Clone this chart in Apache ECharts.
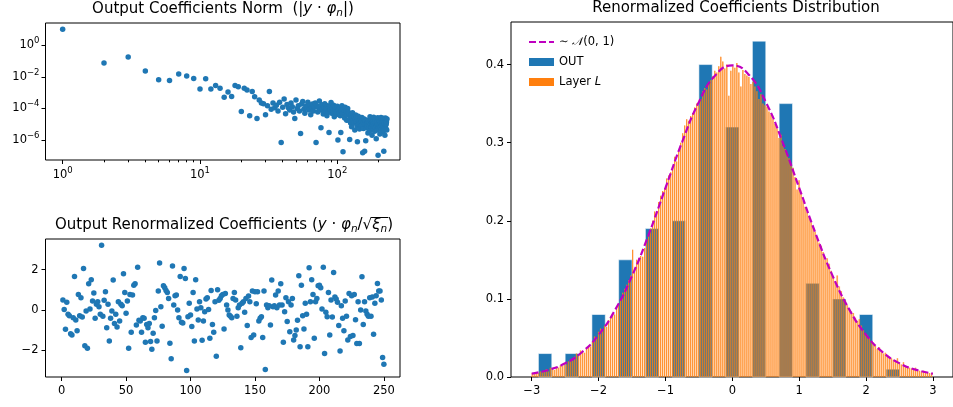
<!DOCTYPE html>
<html>
<head>
<meta charset="utf-8">
<script src="https://cdn.jsdelivr.net/npm/echarts@6.0.0/dist/echarts.min.js"></script>
<style>
  html, body { margin: 0; padding: 0; background: #fff; }
  #chart { width: 953px; height: 407px; }
</style>
</head>
<body>
<div id="chart"></div>
<script>
// |y . phi_n| for n = 1, 2, ...
const coeffNorms = [
  10.2, 0.075, 0.18, 0.024, 0.0067, 0.0058, 0.015, 0.0115, 0.0078, 0.0017,
  0.0075, 0.0017, 0.0029, 0.0019, 0.00052, 0.0011, 0.00057, 0.0029, 0.0024, 6.5e-5,
  0.0019, 0.0015, 3.5e-5, 0.0012, 0.00055, 2.3e-5, 0.00035, 0.00022, 0.0002, 4e-5,
  1.5e-4, 1.2e-3, 9e-5, 2.2e-4, 1.1e-4, 1.6e-4, 7e-5, 2.5e-4, 7e-7, 1.2e-4,
  4e-4, 4.7e-5, 1.8e-4, 1.1e-4, 8e-5, 2.2e-4, 1.3e-4, 6e-5, 2.3e-5, 3.5e-4,
  1e-4, 1.5e-4, 7e-5, 2.6e-6, 1.9e-4, 2.8e-4, 9e-5, 5e-5, 1.4e-4, 1.1e-4,
  2.5e-4, 8e-5, 1.6e-4, 4e-5, 1.2e-4, 1.9e-4, 7e-5, 1.3e-4, 2.2e-4, 7e-7,
  1.5e-4, 6e-5, 1.1e-4, 3e-4, 8e-5, 6e-6, 1.7e-4, 9e-5, 4.5e-5, 1.2e-4,
  2e-4, 7e-5, 1e-4, 3.5e-5, 1.5e-4, 6e-5, 3e-6, 1.3e-4, 8e-5, 2.4e-4,
  5e-5, 1e-4, 7e-5, 1.6e-4, 3e-5, 9e-5, 1.2e-4, 4e-5, 6e-5, 1.4e-4,
  1e-6, 8e-5, 5e-5, 1.1e-4, 3.5e-5, 3e-6, 7e-5, 1.5e-4, 4.5e-5, 1.8e-7,
  9e-5, 6e-5, 2.5e-5, 1.2e-4, 5e-5, 7.5e-5, 1.8e-5, 4e-5, 1e-4, 6e-5,
  1.8e-5, 4.8e-5, 1.1e-6, 3e-5, 1.2e-5, 4.2e-5, 7e-6, 2.7e-5, 5.4e-5, 1.8e-5,
  3.3e-5, 1.2e-5, 2.8e-5, 4.4e-6, 2.2e-5, 3.9e-5, 1.5e-5, 3e-5, 8e-6, 8e-7,
  2e-5, 3.2e-5, 1e-5, 1.8e-5, 5e-6, 2.5e-5, 1.2e-5, 2.2e-5, 8e-6, 1.5e-5,
  2.7e-5, 9e-6, 1.6e-7, 1.8e-5, 5.4e-6, 1.35e-5, 2.2e-5, 2e-7, 1e-5, 1.7e-5,
  9e-7, 1.1e-5, 6e-6, 1.8e-5, 8e-6, 1.3e-5, 2.8e-6, 1e-5, 1.6e-5, 5.2e-6,
  1.2e-5, 8e-6, 3e-5, 4e-6, 1e-5, 1.6e-5, 6.8e-6, 1.2e-5, 2e-6, 9e-6,
  1.4e-5, 5.6e-6, 1e-5, 2.8e-5, 7.2e-6, 1.2e-5, 3.6e-6, 8.8e-6, 1.5e-5, 6e-6,
  1.1e-5, 1.2e-6, 8e-6, 1.3e-5, 4.4e-6, 9.6e-6, 2.6e-5, 1.1e-7, 6.8e-6, 1.1e-5,
  5.2e-6, 1.4e-5, 8e-6, 2.4e-6, 1e-5, 6.4e-6, 1.2e-5, 2.7e-5, 4.8e-6, 8.8e-6,
  1.3e-5, 3.2e-6, 7.6e-6, 1.1e-5, 5.6e-6, 2.4e-5, 8.4e-6, 2e-7, 4e-6, 1e-5,
  1.2e-5, 2e-6, 6.4e-6, 2.5e-5, 8.8e-6, 5.2e-6, 1.1e-5, 1.4e-5, 4.4e-6, 2.2e-5
];

// y . phi_n / sqrt(xi_n) for n = 1 .. 250
const renormCoeffs = [
  0.49, 0.03, -0.95, 0.38, -0.21, -0.28, -1.17, -1.23, -0.38, 1.66,
  -0.49, -1.03, 0.77, -0.28, 0.61, -0.34, 2.05, -1.76, -0.05, -1.89,
  1.30, 0.05, 1.49, 0.44, 0.84, -0.41, 0.28, 0.41, 0.16, -0.21,
  3.20, -0.31, 0.48, 0.90, -0.87, 0.28, -1.53, -0.41, -0.05, 1.48,
  -0.67, -0.21, -0.84, 0.41, -0.54, 0.28, 0.21, 1.79, 0.87, -0.16,
  0.44, -1.89, 0.77, -1.10, 0.74, 1.23, 1.30, -0.74, 2.12, -0.51,
  -0.54, -1.10, -0.38, -0.41, -1.59, -0.71, -0.87, -0.66, -1.56, -1.94,
  -1.15, -0.38, -0.02, -1.53, 0.94, 2.32, 0.16, -0.80, 1.20, 1.10,
  0.97, 0.87, 0.57, -1.64, -2.41, 2.18, 0.25, 0.71, 0.74, 0.0,
  -0.38, 1.66, -0.61, -0.64, 2.05, 1.56, -2.99, -0.33, 0.33, -0.25,
  -0.82, 0.87, -1.53, 1.49, 0.05, -0.49, 0.41, 0.11, -1.49, -0.54,
  -0.08, 0.54, 0.61, 0.02, -1.40, 0.97, -0.71, -1.10, 0.41, -2.28,
  1.00, 0.48, 0.57, 0.71, 0.77, -0.94, 0.82, 0.25, 0.0, -0.25,
  -0.31, -0.38, 0.57, 0.87, 0.49, -0.31, 0.11, 0.25, -1.86, 0.33,
  0.41, -0.11, 0.57, -0.77, 0.69, 0.41, -1.36, 0.94, -1.23, 0.90,
  0.31, 0.90, -0.54, -0.41, -0.33, -1.36, 0.94, -2.94, 0.25, 0.11,
  0.21, -0.74, 1.48, 0.16, 0.21, 0.74, 0.11, 0.94, 0.25, 1.30,
  0.25, -1.59, -0.08, 0.61, -0.57, 0.41, -1.07, 0.25, 0.57, -1.48,
  -1.26, -0.99, -0.51, 1.69, -1.81, 1.23, -0.28, -0.94, 0.34, -0.21,
  -1.82, 2.09, 0.41, 1.49, 0.77, -1.40, 0.41, 0.57, 1.20, 1.23,
  1.10, 0.05, 2.12, -2.15, -0.11, -0.33, 0.87, -1.23, 0.49, -0.34,
  1.86, 0.64, 0.54, 0.38, -0.77, -2.02, 0.21, -0.41, -1.03, 0.44,
  -0.31, -1.48, 0.82, -1.31, 0.71, -1.26, 0.77, -0.48, -1.66, 0.41,
  -1.66, 0.0, 1.64, -0.71, 0.41, -0.05, -0.21, -0.31, 0.61, -0.31,
  0.64, -1.20, 0.33, 0.71, 1.31, 0.94, 0.94, 0.49, -2.35, -2.68
];

// OUT histogram (density), bins of width 0.4
const outBinCenters = [-2.8, -2.4, -2.0, -1.6, -1.2, -0.8, -0.4, 0.0, 0.4, 0.8, 1.2, 1.6, 2.0, 2.4];
const outDensity = [0.03, 0.03, 0.08, 0.15, 0.19, 0.20, 0.40, 0.32, 0.43, 0.35, 0.12, 0.10, 0.08, 0.01];

// Layer L histogram (density), 200 bins from -3 to 3
const layerBinStart = -3;
const layerBinWidth = 0.03;
const layerDensity = [
  0.005, 0.004, 0.006, 0.005, 0.007, 0.006, 0.008, 0.010, 0.007, 0.012,
  0.011, 0.009, 0.013, 0.012, 0.015, 0.014, 0.018, 0.016, 0.020, 0.022,
  0.021, 0.026, 0.030, 0.028, 0.034, 0.032, 0.031, 0.036, 0.040, 0.039,
  0.045, 0.052, 0.050, 0.058, 0.062, 0.060, 0.066, 0.064, 0.073, 0.077,
  0.082, 0.080, 0.088, 0.094, 0.100, 0.108, 0.113, 0.118, 0.124, 0.130,
  0.163, 0.140, 0.150, 0.152, 0.155, 0.154, 0.165, 0.176, 0.182, 0.190,
  0.200, 0.212, 0.210, 0.224, 0.232, 0.238, 0.242, 0.254, 0.258, 0.262,
  0.270, 0.282, 0.276, 0.290, 0.300, 0.312, 0.322, 0.330, 0.328, 0.334,
  0.338, 0.345, 0.350, 0.348, 0.356, 0.366, 0.370, 0.368, 0.375, 0.380,
  0.385, 0.392, 0.390, 0.398, 0.410, 0.404, 0.395, 0.400, 0.360, 0.392,
  0.398, 0.396, 0.402, 0.390, 0.372, 0.393, 0.388, 0.386, 0.384, 0.375,
  0.378, 0.372, 0.366, 0.356, 0.362, 0.350, 0.348, 0.346, 0.340, 0.336,
  0.330, 0.324, 0.318, 0.306, 0.310, 0.296, 0.292, 0.285, 0.280, 0.272,
  0.268, 0.256, 0.240, 0.252, 0.236, 0.226, 0.218, 0.212, 0.205, 0.198,
  0.192, 0.186, 0.180, 0.172, 0.168, 0.160, 0.150, 0.152, 0.145, 0.136,
  0.128, 0.122, 0.130, 0.116, 0.110, 0.102, 0.098, 0.092, 0.088, 0.084,
  0.082, 0.076, 0.072, 0.074, 0.066, 0.060, 0.056, 0.054, 0.050, 0.046,
  0.044, 0.040, 0.036, 0.038, 0.034, 0.030, 0.031, 0.028, 0.026, 0.024,
  0.022, 0.020, 0.024, 0.018, 0.016, 0.019, 0.014, 0.013, 0.012, 0.011,
  0.010, 0.012, 0.009, 0.008, 0.007, 0.008, 0.006, 0.006, 0.005, 0.005
];

// reference N(0,1) curve as drawn
const normalX = [-3, -2.75, -2.5, -2.25, -2, -1.75, -1.5, -1.25, -1, -0.75, -0.5, -0.25, 0,
  0.25, 0.5, 0.75, 1, 1.25, 1.5, 1.75, 2, 2.25, 2.5, 2.75, 3];
const normalY = [0.0044, 0.0091, 0.0175, 0.0317, 0.054, 0.0863, 0.1295, 0.1826, 0.242, 0.3011,
  0.3521, 0.3867, 0.3989, 0.3867, 0.3521, 0.3011, 0.242, 0.1826, 0.1295, 0.0863, 0.054, 0.0317,
  0.0175, 0.0091, 0.0044];

const logXTicks = [1, 10, 100];
const logXMinorTicks = [2, 3, 4, 5, 6, 7, 8, 9, 20, 30, 40, 50, 60, 70, 80, 90, 200];
const logYTicks = [1e-6, 1e-4, 1e-2, 1];
const renormXTicks = [0, 50, 100, 150, 200, 250];
const renormYTicks = [-2, 0, 2];
const distXTicks = [-3, -2, -1, 0, 1, 2, 3];
const distYTicks = [0, 0.1, 0.2, 0.3, 0.4];

const FONT = "DejaVu Sans";
const BLUE = "#1f77b4";
const ORANGE = "#ff7f0e";
const MAGENTA = "#bf00bf";
const NORMAL_NAME = "normal";

const chart = echarts.init(document.getElementById("chart"), null, { renderer: "canvas" });

function powerLabel(v) {
  const e = Math.round(Math.log10(v));
  return "{b|10}{e|" + (e < 0 ? "\u2212" + -e : e) + "}";
}
function minusLabel(v) {
  return String(v).replace("-", "\u2212");
}

// width of a text run, used to put the bar over the square root in the 2nd title
const measureCtx = document.createElement("canvas").getContext("2d");
function textWidth(text, font) {
  measureCtx.font = font;
  return measureCtx.measureText(text).width;
}

const tickLabel = { fontFamily: FONT, fontSize: 11.5, color: "#000" };
const axisTick = { show: true, length: 4, inside: false, lineStyle: { color: "#000", width: 1 } };
const noLine = { show: false, onZero: false };
const noSplit = { show: false };
const powRich = {
  b: { fontFamily: FONT, fontSize: 11.5, color: "#000", verticalAlign: "middle" },
  e: { fontFamily: FONT, fontSize: 8.5, color: "#000", verticalAlign: "middle", padding: [0, 0, 9, 0] },
};
const gridBox = { show: true, borderColor: "#000", borderWidth: 1, backgroundColor: "transparent" };

const titleRich = {
  n: { fontFamily: FONT, fontSize: 15, fontWeight: "normal", color: "#000", verticalAlign: "middle" },
  i: { fontFamily: FONT, fontSize: 15, fontWeight: "normal", fontStyle: "italic", color: "#000", verticalAlign: "middle" },
  s: { fontFamily: FONT, fontSize: 10.5, fontWeight: "normal", fontStyle: "italic", color: "#000", verticalAlign: "middle", padding: [8, 0, 0, 0] },
};

const T2_CENTER = 224;
const T2_TOP = 216;
const fMain = '15px "DejaVu Sans"';
const fItalic = 'italic 15px "DejaVu Sans"';
const fSub = 'italic 10.5px "DejaVu Sans"';
const t2Before = textWidth("Output Renormalized Coefficients (", fMain) + textWidth("y", fItalic)
  + textWidth(" \u00b7 ", fMain) + textWidth("\u03c6", fItalic) + textWidth("n", fSub) + textWidth("/\u221a", fMain);
const t2Radicand = textWidth("\u03be", fItalic) + textWidth("n", fSub);
const t2Total = t2Before + t2Radicand + textWidth(")", fMain);
const rootBarX = T2_CENTER - t2Total / 2 + t2Before;

const option = {
  animation: false,
  backgroundColor: "#fff",
  title: [
    {
      text: "{n|Output Coefficients Norm  (|}{i|y}{n| \u00b7 }{i|\u03c6}{s|n}{n||)}",
      left: 223, top: 0, textAlign: "center", padding: 0,
      textStyle: { fontWeight: "normal", rich: titleRich },
    },
    {
      text: "{n|Output Renormalized Coefficients (}{i|y}{n| \u00b7 }{i|\u03c6}{s|n}{n|/\u221a}{i|\u03be}{s|n}{n|)}",
      left: T2_CENTER, top: T2_TOP, textAlign: "center", padding: 0,
      textStyle: { fontWeight: "normal", rich: titleRich },
    },
    {
      text: "Renormalized Coefficients Distribution",
      left: 736, top: 1, textAlign: "center", padding: 0,
      textStyle: { fontFamily: FONT, fontSize: 15, fontWeight: "normal", color: "#000" },
    },
  ],
  graphic: [
    {
      type: "line", silent: true,
      shape: { x1: rootBarX - 1, y1: T2_TOP + 1.5, x2: rootBarX + t2Radicand + 1, y2: T2_TOP + 1.5 },
      style: { stroke: "#000", lineWidth: 1 },
    },
  ],
  legend: {
    orient: "vertical",
    left: 523, top: 31,
    itemWidth: 25, itemHeight: 8, itemGap: 8,
    textStyle: { fontFamily: FONT, fontSize: 11.5, color: "#000", rich: {
      n: { fontFamily: FONT, fontSize: 11.5, color: "#000" },
      i: { fontFamily: FONT, fontSize: 11.5, fontStyle: "italic", color: "#000" },
    } },
    data: [
      { name: NORMAL_NAME, itemStyle: { opacity: 0 } },
      { name: "OUT", icon: "rect", itemStyle: { color: BLUE } },
      { name: "Layer L", icon: "rect", itemStyle: { color: ORANGE } },
    ],
    formatter: (name) => {
      if (name === NORMAL_NAME) return "{n|\u223c }{i|\ud835\udca9}{n|(0, 1)}";
      if (name === "Layer L") return "{n|Layer }{i|L}";
      return "{n|" + name + "}";
    },
  },
  grid: [
    { left: 45.5, top: 23, width: 354.5, height: 137, ...gridBox },
    { left: 45.5, top: 239, width: 354.5, height: 138, ...gridBox },
    { left: 511, top: 22, width: 450, height: 355, ...gridBox },
  ],
  xAxis: [
    {
      gridIndex: 0, type: "log", logBase: 10, min: 0.75, max: 286, position: "bottom",
      axisLine: noLine, splitLine: noSplit,
      axisTick: { ...axisTick, customValues: logXTicks },
      axisLabel: { ...tickLabel, margin: 6, customValues: logXTicks, formatter: powerLabel, rich: powRich },
    },
    {
      gridIndex: 0, type: "log", logBase: 10, min: 0.75, max: 286, position: "bottom",
      axisLine: noLine, splitLine: noSplit,
      axisTick: { ...axisTick, length: 2.3, customValues: logXMinorTicks },
      axisLabel: { show: false },
    },
    {
      gridIndex: 1, type: "value", min: -12.5, max: 262.5, position: "bottom",
      axisLine: noLine, splitLine: noSplit,
      axisTick: { ...axisTick, customValues: renormXTicks },
      axisLabel: { ...tickLabel, margin: 8, customValues: renormXTicks },
    },
    {
      gridIndex: 2, type: "value", min: -3.31, max: 3.3, position: "bottom",
      axisLine: noLine, splitLine: noSplit,
      axisTick: { ...axisTick, customValues: distXTicks },
      axisLabel: { ...tickLabel, margin: 8, customValues: distXTicks, formatter: minusLabel },
    },
  ],
  yAxis: [
    {
      gridIndex: 0, type: "log", logBase: 10, min: 5.5e-8, max: 25.7, position: "left",
      axisLine: noLine, splitLine: noSplit,
      axisTick: { ...axisTick, customValues: logYTicks },
      axisLabel: { ...tickLabel, margin: 6, customValues: logYTicks, formatter: powerLabel, rich: powRich },
    },
    {
      gridIndex: 1, type: "value", min: -3.31, max: 3.51, position: "left",
      axisLine: noLine, splitLine: noSplit,
      axisTick: { ...axisTick, customValues: renormYTicks },
      axisLabel: { ...tickLabel, margin: 7, customValues: renormYTicks, formatter: minusLabel },
    },
    {
      gridIndex: 2, type: "value", min: 0, max: 0.4545, position: "left",
      axisLine: noLine, splitLine: noSplit,
      axisTick: { ...axisTick, customValues: distYTicks },
      axisLabel: { ...tickLabel, margin: 7, customValues: distYTicks, formatter: (v) => v.toFixed(1) },
    },
  ],
  series: [
    {
      type: "scatter", xAxisIndex: 0, yAxisIndex: 0,
      symbolSize: 5.5, itemStyle: { color: BLUE, opacity: 1 },
      data: coeffNorms.map((v, i) => [i + 1, v]),
    },
    {
      type: "scatter", xAxisIndex: 2, yAxisIndex: 1,
      symbolSize: 5.5, itemStyle: { color: BLUE, opacity: 1 },
      data: renormCoeffs.map((v, i) => [i + 1, v]),
    },
    {
      name: "OUT", type: "custom", xAxisIndex: 3, yAxisIndex: 2,
      itemStyle: { color: BLUE },
      encode: { x: 0, y: 1 },
      data: outBinCenters.map((c, i) => [c, outDensity[i]]),
      renderItem: (params, api) => {
        const x = api.value(0);
        const h = api.value(1);
        const tl = api.coord([x - 0.1, h]);
        const br = api.coord([x + 0.1, 0]);
        return {
          type: "rect",
          shape: { x: tl[0], y: tl[1], width: br[0] - tl[0], height: br[1] - tl[1] },
          style: { fill: BLUE, stroke: "rgba(255,255,255,0.55)", lineWidth: 1 },
        };
      },
      z: 2,
    },
    {
      name: "Layer L", type: "custom", xAxisIndex: 3, yAxisIndex: 2,
      itemStyle: { color: ORANGE },
      encode: { x: 0, y: 1 },
      data: layerDensity.map((v, i) => [layerBinStart + layerBinWidth * (i + 0.5), v]),
      renderItem: (params, api) => {
        const x = api.value(0);
        const h = api.value(1);
        const tl = api.coord([x - layerBinWidth / 2, h]);
        const br = api.coord([x + layerBinWidth / 2, 0]);
        const w = br[0] - tl[0];
        return {
          type: "group",
          children: [
            {
              type: "rect",
              shape: { x: tl[0], y: tl[1], width: w * 0.72, height: br[1] - tl[1] },
              style: { fill: "rgba(255,127,14,0.5)" },
            },
            {
              type: "rect",
              shape: { x: tl[0], y: tl[1], width: 0.8, height: br[1] - tl[1] },
              style: { fill: "rgba(255,127,14,0.9)" },
            },
          ],
        };
      },
      z: 3,
    },
    {
      name: NORMAL_NAME, type: "line", xAxisIndex: 3, yAxisIndex: 2,
      data: normalX.map((x, i) => [x, normalY[i]]),
      smooth: true, showSymbol: false, symbol: "none",
      itemStyle: { color: MAGENTA },
      lineStyle: { color: MAGENTA, width: 2.2, type: [7, 3] },
      z: 4,
    },
  ],
};

chart.setOption(option);
</script>
</body>
</html>
